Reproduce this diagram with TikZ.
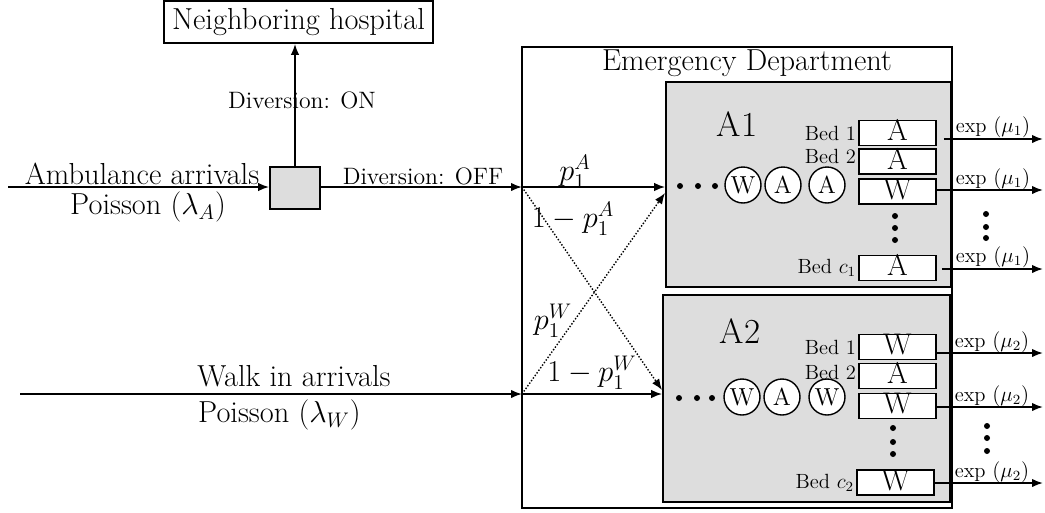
\documentclass[tikz,border=0pt]{standalone}
\usetikzlibrary{arrows.meta}
\tikzset{
	flow/.style = {-{Latex[length=2.2mm,width=1.7mm]},line width = 1pt},
	dotflow/.style = {-{Latex[length=2.2mm,width=1.7mm]},line width = .8pt,densely dotted},
	big/.style = {font=\fontsize{17.3}{20}\selectfont},
	mid/.style = {font=\fontsize{13.5}{16}\selectfont},
	small/.style = {font=\fontsize{11.7}{13}\selectfont},
	area/.style = {draw,line width = 1pt,fill=gray!27,inner sep=0pt},
	bedbox/.style = {draw,line width = 1pt,fill=white,inner sep=0pt,minimum width=1.54cm,minimum height=.5cm,text height=3mm,text depth=0pt,font=\fontsize{17}{17}\selectfont},
	patient/.style = {circle,draw,fill=white,line width = .8pt,inner sep=0pt,minimum size=.72cm,font=\fontsize{14}{16}\selectfont},
	qdot/.style = {circle,fill=black,inner sep=0pt,minimum size=1.2mm}
}
\begin{document}
\begin{tikzpicture}[x=0.02cm,y=-0.02cm]
	\useasboundingbox (0,0) rectangle (1045,512);
	% diversion part
	\node [draw,line width = 1pt,minimum width=5.38cm,minimum height=.84cm,big] (hosp) at (298.5,22) {Neighboring hospital};
	\node [area,minimum width=1cm,minimum height=.84cm] (sw) at (295,188) {};
	\coordinate (ambin) at (8,187);
	\draw [flow](ambin) -- (ambin -| sw.west);
	\node [big] (amb) at (142,174) {Ambulance arrivals};
	\node [big] (ambrate) at (148,207) {Poisson $(\lambda_A)$};
	\draw [flow](sw.north) -- (sw.north |- hosp.south);
	\node [mid] (on) at (302,100) {Diversion: ON};
	\coordinate (splitA) at (522,187);
	\draw [flow](sw.east |- splitA) -- (splitA);
	\node [mid] (off) at (423,176) {Diversion: OFF};
	% emergency department
	\node [draw,line width = 1pt,minimum width=8.6cm,minimum height=9.22cm] (ed) at (737,277.5) {};
	\node [big] (edname) at (747,63) {Emergency Department};
	\node [area,minimum width=5.7cm,minimum height=4.1cm] (a1) at (808.5,184.5) {};
	\node [area,minimum width=5.74cm,minimum height=4.14cm] (a2) at (806.5,398.5) {};
	\node [font=\fontsize{20}{22}\selectfont] (a1name) at (737,124) {A1};
	\node [font=\fontsize{20}{22}\selectfont] (a2name) at (740,331) {A2};
	% walk in
	\coordinate (walkin) at (20,394);
	\coordinate (splitW) at (522,394);
	\draw [flow](walkin) -- (splitW);
	\node [big] (walk) at (294,376) {Walk in arrivals};
	\node [big,anchor=west] (walkrate) at (192,415) {Poisson $(\lambda_W)$};
	% routing
	\coordinate (a1in) at (665,193);
	\coordinate (a2in) at (662,390);
	\draw [flow](splitA) -- (splitA -| a1.west);
	\draw [flow](splitW) -- (splitW -| a2.west);
	\draw [dotflow](splitA) -- (a2in);
	\draw [dotflow](splitW) -- (a1in);
	\node [big] (pA) at (575,172) {$p_1^A$};
	\node [big] (qA) at (573,219) {$1-p_1^A$};
	\node [big] (pW) at (553,321) {$p_1^W$};
	\node [big] (qW) at (592,373) {$1-p_1^W$};
	% queues
	\foreach \x in {680,698,715} \node [qdot] at (\x,186) {};
	\foreach \x in {679,697,712} \node [qdot] at (\x,398) {};
	\node [patient] (w11) at (743,185) {W};
	\node [patient] (w12) at (783,185) {A};
	\node [patient] (w13) at (827,185) {A};
	\node [patient] (w21) at (742,397) {W};
	\node [patient] (w22) at (782,397) {A};
	\node [patient] (w23) at (827,397) {W};
	% beds
	\node [bedbox] (b11) at (897.5,133) {A};
	\node [bedbox] (b12) at (897.5,161.5) {A};
	\node [bedbox] (b13) at (897.5,191.5) {W};
	\node [bedbox] (b1c) at (897.5,268) {A};
	\node [bedbox] (b21) at (897.5,347) {W};
	\node [bedbox] (b22) at (897.5,376) {A};
	\node [bedbox] (b23) at (897.5,406) {W};
	\node [bedbox] (b2c) at (895.5,482.5) {W};
	\node [small,anchor=east,inner sep=1pt] at (b11.west) {Bed 1};
	\node [small,anchor=east,inner sep=1pt] at ([yshift=.1cm]b12.west) {Bed 2};
	\node [small,anchor=east,inner sep=1pt] at (b1c.west) {Bed $c_1$};
	\node [small,anchor=east,inner sep=1pt] at (b21.west) {Bed 1};
	\node [small,anchor=east,inner sep=1pt] at ([yshift=.08cm]b22.west) {Bed 2};
	\node [small,anchor=east,inner sep=1pt] at (b2c.west) {Bed $c_2$};
	\foreach \y in {216,228,240} \node [qdot] at (895,\y) {};
	\foreach \y in {428,442,454} \node [qdot] at (893,\y) {};
	% services
	\coordinate (o11) at (1043,139);
	\coordinate (o13) at (1043,190);
	\coordinate (o1c) at (1043,269);
	\coordinate (o21) at (1043,353);
	\coordinate (o23) at (1043,407);
	\coordinate (o2c) at (1043,483);
	\draw [flow]([xshift=.14cm]b11.east |- o11) -- (o11);
	\draw [flow](b13.east |- o13) -- (o13);
	\draw [flow]([xshift=.1cm]b1c.east |- o1c) -- (o1c);
	\draw [flow](b21.east |- o21) -- (o21);
	\draw [flow](b23.east |- o23) -- (o23);
	\draw [flow](b2c.east |- o2c) -- (o2c);
	\node [small] at (993,127) {exp $(\mu_1)$};
	\node [small] at (993,179) {exp $(\mu_1)$};
	\node [small] at (993,257) {exp $(\mu_1)$};
	\node [small] at (992,342) {exp $(\mu_2)$};
	\node [small] at (992,396) {exp $(\mu_2)$};
	\node [small] at (992,472) {exp $(\mu_2)$};
	\foreach \y in {214,227,238} \node [qdot] at (986,\y) {};
	\foreach \y in {426,438,451} \node [qdot] at (987,\y) {};
	
	\end{tikzpicture}
\end{document}
